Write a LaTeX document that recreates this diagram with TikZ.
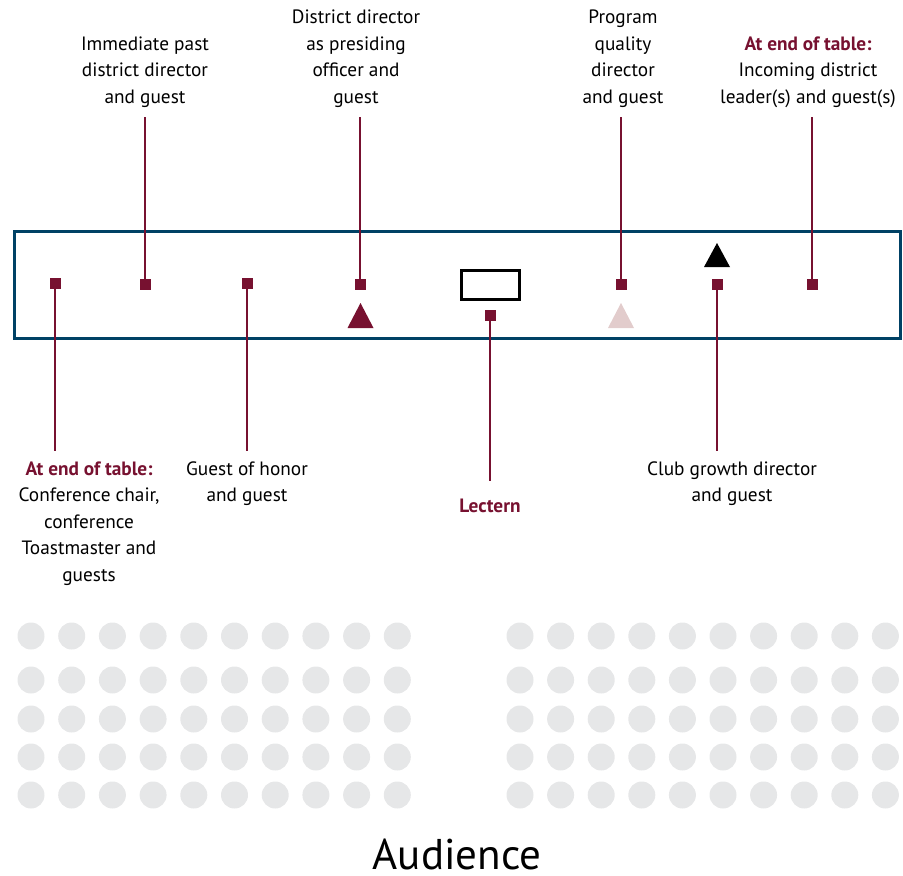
\documentclass[tikz,border=0pt]{standalone}
\usepackage{fontspec}
\setmainfont{PT Sans}
\usetikzlibrary{positioning,calc}
\definecolor{tmmaroon}{RGB}{119,17,48}
\definecolor{tmblue}{RGB}{0,65,101}
\definecolor{seatpink}{RGB}{226,204,204}
\definecolor{audgray}{RGB}{230,231,232}
\newcommand{\hd}[1]{\textcolor{tmmaroon}{\textbf{#1}}}
\tikzset{
  seat/.style={fill=tmmaroon, minimum size=11pt, inner sep=0pt},
  lead/.style={draw=tmmaroon, line width=2.5pt},
  lbl/.style={align=center, font=\fontsize{19.3}{26.5}\selectfont, inner xsep=0pt, inner ysep=10pt, anchor=base}
}

\begin{document}
\begin{tikzpicture}[x=1pt,y=-1pt]
  \useasboundingbox (0,0) rectangle (903,876);
  % Head table
  \draw[tmblue, line width=3pt] (14,231.5) rectangle (900.3,338.5);
  % Lectern
  \node[draw=black, line width=3pt, minimum width=58pt, minimum height=29pt, inner sep=0pt] (lect) at (490.5,285) {};
  % Places
  \node[seat] (s1) at (55,283) {};
  \node[seat] (s2) at (145,284) {};
  \node[seat] (s3) at (247,283) {};
  \node[seat] (s4) at (360,284) {};
  \node[seat] (s5) at (490,315) {};
  \node[seat] (s6) at (621,284) {};
  \node[seat] (s7) at (717,284) {};
  \node[seat] (s8) at (812,284) {};
  % Triangles
  \fill[tmmaroon] (347.5,328) -- (360.5,303) -- (373.5,328) -- cycle;
  \fill[seatpink] (608,328) -- (621,303) -- (634,328) -- cycle;
  \fill[black] (704,267) -- (717,243) -- (730,267) -- cycle;
  % Labels above (placed at baseline of last line)
  \node[lbl] (l2) at (145,103) {Immediate past\\district director\\and guest};
  \node[lbl] (l4) at (356,103) {District director\\as presiding\\officer and\\guest};
  \node[lbl] (l6) at (623,103) {Program\\quality\\director\\and guest};
  \node[lbl] (l8) at (808,103) {\hd{At end of table:}\\Incoming district\\leader(s) and guest(s)};
  % Labels below
  \node[lbl] (l1) at (89,581) {\hd{At end of table:}\\Conference chair,\\conference\\Toastmaster and\\guests};
  \node[lbl] (l3) at (247,501.5) {Guest of honor\\and guest};
  \node[lbl, inner ysep=17pt] (l5) at (490,512) {\hd{Lectern}};
  \node[lbl] (l7) at (732,501.5) {Club growth director\\and guest};
  % Leader lines
  \draw[lead] (s2.center) -- (s2 |- l2.south);
  \draw[lead] (s4.center) -- (s4 |- l4.south);
  \draw[lead] (s6.center) -- (s6 |- l6.south);
  \draw[lead] (s8.center) -- (s8 |- l8.south);
  \draw[lead] (s1.center) -- (s1 |- l1.north);
  \draw[lead] (s3.center) -- (s3 |- l3.north);
  \draw[lead] (s5.center) -- (s5 |- l5.north);
  \draw[lead] (s7.center) -- (s7 |- l7.north);
  % Audience seating
  \foreach \r in {636,680,719,757,795} {
    \foreach \c in {0,...,9} {
      \fill[audgray] (31+40.7*\c,\r) circle[radius=13.5pt];
      \fill[audgray] (520+40.6*\c,\r) circle[radius=13.5pt];
    }
  }
  \node[font=\fontsize{43}{50}\selectfont, anchor=base, inner sep=0pt, text depth=0pt] (aud) at (457,869) {Audience};
\end{tikzpicture}
\end{document}
